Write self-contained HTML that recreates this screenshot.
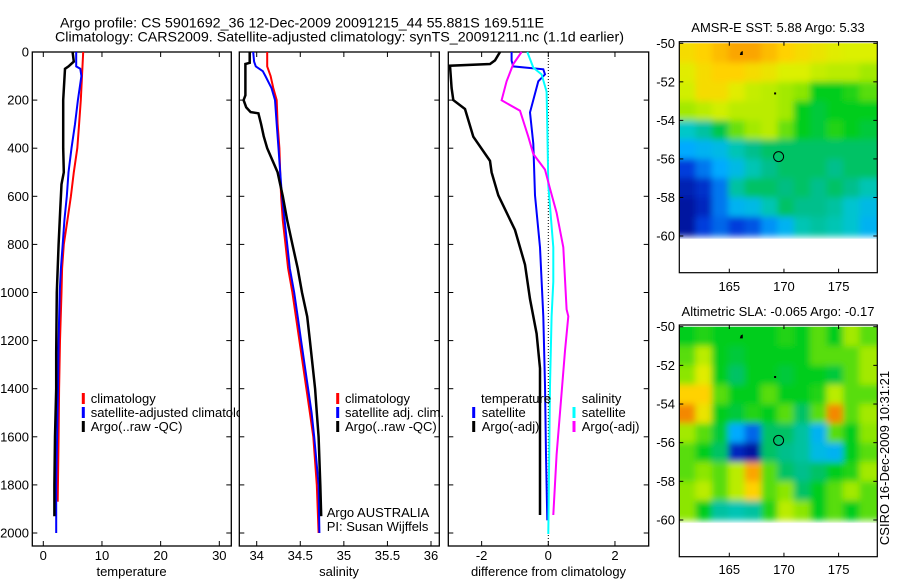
<!DOCTYPE html>
<html><head><meta charset="utf-8">
<style>
html,body{margin:0;padding:0;background:#fff;}
svg{display:block;font-family:"Liberation Sans",sans-serif;}
</style></head>
<body>
<svg id="chart" width="900" height="580" viewBox="0 0 900 580" xmlns="http://www.w3.org/2000/svg">
<defs>
<clipPath id="clipSst"><rect x="679.3" y="43.3" width="198" height="195.4"/></clipPath>
<clipPath id="clipSla"><rect x="679.3" y="326.7" width="198" height="196"/></clipPath>
<clipPath id="clipP1"><rect x="32" y="40" width="208" height="510"/></clipPath>
<filter id="blur" x="-5%" y="-5%" width="110%" height="110%"><feGaussianBlur stdDeviation="3.2"/></filter>
</defs>
<text x="60" y="27.5" font-size="14" textLength="484" lengthAdjust="spacingAndGlyphs">Argo profile: CS 5901692_36 12-Dec-2009 20091215_44 55.881S 169.511E</text>
<text x="55" y="41.5" font-size="14" textLength="569" lengthAdjust="spacingAndGlyphs">Climatology: CARS2009. Satellite-adjusted climatology: synTS_20091211.nc (1.1d earlier)</text>
<g id="g"></g>
</svg>
<script>
// ---------- data ----------
const depthTicks = [0,200,400,600,800,1000,1200,1400,1600,1800,2000];
const tempTicks = [0,10,20,30];
const salTicks = [34,34.5,35,35.5,36];
const diffTicks = [-2,0,2];
const lonTicks = [165,170,175];
const latTicks = [-50,-52,-54,-56,-58,-60];

const tempClimDepth = [0,100,200,300,400,500,600,700,800,900,1000,1200,1400,1600,1870];
const tempClimVal = [6.8,6.6,6.4,6.1,5.8,5.2,4.7,4.1,3.5,3.2,3.1,2.85,2.7,2.6,2.45];
const tempSatDepth = [0,60,70,100,200,300,400,500,600,700,800,900,1000,1200,1400,1600,1800,2000];
const tempSatVal = [5.6,5.6,6.3,6.5,5.9,5.4,4.8,4.3,4.0,3.6,3.3,3.0,2.8,2.6,2.5,2.35,2.2,2.2];
const tempArgoDepth = [0,40,60,70,200,300,400,500,550,650,800,1000,1250,1400,1600,1800,1930];
const tempArgoVal = [5.0,5.2,4.3,3.7,3.4,3.4,3.4,3.5,3.1,2.9,2.6,2.3,2.2,2.2,2.0,1.9,1.9];

const salClimDepth = [0,60,100,150,200,300,400,500,600,700,800,900,1000,1100,1200,1300,1400,1500,1600,1800,2000];
const salClimVal = [34.12,34.12,34.16,34.19,34.23,34.24,34.26,34.27,34.28,34.30,34.33,34.36,34.41,34.45,34.49,34.53,34.57,34.61,34.65,34.69,34.71];
const salSatDepth = [0,40,60,80,100,150,200,300,400,500,600,700,800,900,1000,1100,1200,1300,1400,1500,1600,1800,2000];
const salSatVal = [33.96,33.97,33.99,34.07,34.10,34.17,34.21,34.23,34.25,34.27,34.29,34.32,34.35,34.38,34.43,34.47,34.51,34.55,34.59,34.63,34.66,34.71,34.72];
const salArgoDepth = [0,45,50,180,200,230,250,255,300,350,400,450,500,550,600,700,800,900,1000,1100,1200,1300,1400,1500,1600,1800,1930];
const salArgoVal = [33.92,33.92,33.87,33.87,33.85,33.88,33.93,34.02,34.05,34.08,34.12,34.18,34.24,34.27,34.30,34.35,34.41,34.47,34.52,34.58,34.61,34.64,34.67,34.69,34.71,34.73,34.74];

const dTempArgoDepth = [0,35,50,57,150,200,237,352,453,500,596,740,884,1027,1171,1315,1530,1925];
const dTempArgoVal = [-1.45,-1.6,-1.75,-2.95,-2.9,-2.85,-2.5,-2.25,-1.75,-1.7,-1.5,-1.0,-0.7,-0.55,-0.35,-0.25,-0.25,-0.25];
const dTempSatDepth = [0,36,60,72,93,122,251,381,596,812,1099,1386,1674,1947];
const dTempSatVal = [-1.1,-1.1,-1.05,-0.15,-0.1,-0.3,-0.55,-0.45,-0.4,-0.25,-0.15,-0.1,-0.07,-0.03];
const dSalSatDepth = [0,65,93,165,309,553,812,955,1099,1386,2004];
const dSalSatVal = [-0.63,-0.45,-0.2,-0.05,-0.03,0,0.15,0.15,0.1,0.05,0];
const dSalArgoDepth = [0,50,122,201,244,352,424,489,568,668,812,1070,1099,1243,1674,1925];
const dSalArgoVal = [-0.8,-1.05,-1.25,-1.4,-0.85,-0.6,-0.45,-0.1,0.05,0.25,0.45,0.55,0.6,0.5,0.25,0.15];

const mapLonCenters = [161.15,162.65,164.15,165.65,167.15,168.65,170.15,171.65,173.15,174.65,176.15,177.65];
const mapLatCenters = [-50.5,-51.5,-52.5,-53.5,-54.5,-55.5,-56.5,-57.5,-58.5,-59.5];
const sstGrid = [
[0.70,0.72,0.75,0.78,0.78,0.75,0.72,0.70,0.68,0.66,0.65,0.65],
[0.66,0.70,0.72,0.72,0.70,0.68,0.65,0.65,0.63,0.62,0.62,0.60],
[0.64,0.70,0.70,0.66,0.63,0.62,0.60,0.58,0.50,0.50,0.52,0.55],
[0.60,0.62,0.64,0.62,0.62,0.62,0.60,0.50,0.48,0.50,0.50,0.50],
[0.36,0.40,0.47,0.56,0.60,0.62,0.56,0.50,0.48,0.52,0.50,0.48],
[0.28,0.30,0.32,0.38,0.42,0.45,0.45,0.45,0.45,0.45,0.45,0.45],
[0.15,0.22,0.28,0.32,0.38,0.42,0.45,0.45,0.45,0.42,0.45,0.45],
[0.08,0.12,0.22,0.40,0.45,0.45,0.43,0.45,0.42,0.45,0.42,0.38],
[0.05,0.10,0.22,0.30,0.32,0.38,0.45,0.42,0.42,0.40,0.35,0.32],
[0.05,0.15,0.20,0.15,0.18,0.25,0.30,0.38,0.40,0.38,0.35,0.30]];
const slaGrid = [
[0.50,0.52,0.50,0.50,0.50,0.50,0.52,0.50,0.55,0.50,0.60,0.55],
[0.55,0.62,0.50,0.48,0.50,0.50,0.50,0.50,0.55,0.55,0.55,0.60],
[0.58,0.66,0.50,0.45,0.50,0.50,0.48,0.50,0.50,0.48,0.55,0.60],
[0.72,0.72,0.55,0.50,0.50,0.55,0.50,0.50,0.52,0.62,0.55,0.55],
[0.82,0.68,0.50,0.48,0.52,0.50,0.55,0.45,0.55,0.82,0.55,0.60],
[0.60,0.55,0.48,0.28,0.20,0.45,0.45,0.40,0.30,0.55,0.50,0.58],
[0.55,0.50,0.45,0.10,0.05,0.45,0.42,0.40,0.32,0.30,0.50,0.55],
[0.55,0.58,0.55,0.62,0.78,0.55,0.45,0.42,0.45,0.50,0.52,0.60],
[0.58,0.62,0.55,0.62,0.72,0.55,0.58,0.45,0.50,0.55,0.60,0.55],
[0.58,0.50,0.40,0.38,0.40,0.52,0.62,0.58,0.50,0.55,0.50,0.55]];

// ---------- helpers ----------
const NS = "http://www.w3.org/2000/svg";
const root = document.getElementById('g');
function el(tag, attrs, parent){
  const e = document.createElementNS(NS, tag);
  for (const k in attrs) e.setAttribute(k, attrs[k]);
  (parent||root).appendChild(e);
  return e;
}
const yDepth = d => 52 + d*0.2405;
const xTemp = v => 43.3 + v*5.867;
const xSal = v => 256.7 + (v-34)*87.15;
const xDiff = v => 548.3 + v*33.33;
const xLon = v => 729.3 + (v-165)*10.93;
const ySst = v => 43.3 + (-50 - v)*19.27;
const ySla = v => 326.7 + (-50 - v)*19.33;

const cmapStops = [
 [0.00,[0,0,130]],[0.15,[0,60,220]],[0.28,[0,170,255]],[0.36,[0,200,200]],
 [0.43,[0,190,130]],[0.50,[0,205,30]],[0.58,[140,230,0]],[0.65,[220,240,0]],
 [0.72,[255,210,0]],[0.80,[250,150,0]],[0.90,[220,80,0]],[1.00,[180,0,0]]];
function cmap(v){
  v=Math.max(0,Math.min(1,v));
  for(let i=1;i<cmapStops.length;i++){
    const [a,ca]=cmapStops[i-1],[b,cb]=cmapStops[i];
    if(v<=b){const t=(v-a)/(b-a);
      return `rgb(${ca.map((c,k)=>Math.round(c+(cb[k]-c)*t)).join(',')})`;}
  }
  return 'rgb(180,0,0)';
}

function panel(name, x0, x1, y0, y1, xt, xf, yt, yf, labelY, showYLabels, yLabelX){
  const g = el('g',{});
  
  
  el('rect',{x:x0,y:y0,width:x1-x0,height:y1-y0,fill:'none',stroke:'#000','stroke-width':1.3},g);
  xt.forEach(t=>{
    const x=xf(t);
    el('line',{x1:x,x2:x,y1:y1,y2:y1-5,stroke:'#000'},g);
    el('line',{x1:x,x2:x,y1:y0,y2:y0+5,stroke:'#000'},g);
    const lb = el('text',{x:x,y:labelY,'font-size':13,'text-anchor':'middle'},g);
    
    
    lb.textContent = String(t);
  });
  yt.forEach(t=>{
    const y=yf(t);
    el('line',{x1:x0,x2:x0+5,y1:y,y2:y,stroke:'#000'},g);
    el('line',{x1:x1,x2:x1-5,y1:y,y2:y,stroke:'#000'},g);
    if(showYLabels){
      const lb = el('text',{x:yLabelX,y:y+4.5,'font-size':13,'text-anchor':'end'},g);
      
      
      lb.textContent = String(t);
    }
  });
  return g;
}
function line(name, depths, vals, xf, color, w){
  const pts = depths.map((d,i)=>xf(vals[i]).toFixed(1)+','+yDepth(d).toFixed(1)).join(' ');
  const p = el('polyline',{points:pts,fill:'none',stroke:color,'stroke-width':w,'stroke-linejoin':'miter'});
  
  
}
function txt(name, x, y, s, size, anchor, parent){
  const t = el('text',{x:x,y:y,'font-size':size||13,'text-anchor':anchor||'start'},parent);
  
  
  t.textContent = s;
  return t;
}
function legendMark(name, x, y, color){
  const r = el('rect',{x:x-1.5,y:y-10,width:3,height:11,fill:color});
  
  
}

// ---------- panel 1: temperature ----------
panel('temperature-panel',32.3,231.3,52,546,tempTicks,xTemp,depthTicks,yDepth,560,true,29);
txt('x-axis-title-temperature',131.5,576,'temperature',13,'middle');
line('temperature-climatology-line',tempClimDepth,tempClimVal,xTemp,'#ff0000',2);
line('temperature-satellite-line',tempSatDepth,tempSatVal,xTemp,'#0000ff',2);
line('temperature-argo-line',tempArgoDepth,tempArgoVal,xTemp,'#000000',2.5);
legendMark('legend-mark-climatology',83.3,403,'#ff0000');
legendMark('legend-mark-satellite',83.3,417,'#0000ff');
legendMark('legend-mark-argo',83.3,431,'#000000');
const lg1 = el('g',{'clip-path':'url(#clipP1)'});
txt('legend-climatology',90.7,403,'climatology',13,'start',lg1);
txt('legend-satellite',90.7,417,'satellite-adjusted climatology',13,'start',lg1);
txt('legend-argo',90.7,431,'Argo(..raw -QC)',13,'start',lg1);

// ---------- panel 2: salinity ----------
panel('salinity-panel',239.3,439.3,52,546,salTicks,xSal,depthTicks,yDepth,560,false,0);
txt('x-axis-title-salinity',339,576,'salinity',13,'middle');
line('salinity-climatology-line',salClimDepth,salClimVal,xSal,'#ff0000',2);
line('salinity-satellite-line',salSatDepth,salSatVal,xSal,'#0000ff',2);
line('salinity-argo-line',salArgoDepth,salArgoVal,xSal,'#000000',2.5);
legendMark('legend-mark-sal-climatology',337.7,403,'#ff0000');
legendMark('legend-mark-sal-satellite',337.7,417,'#0000ff');
legendMark('legend-mark-sal-argo',337.7,431,'#000000');
txt('legend-sal-climatology',345,403,'climatology');
txt('legend-sal-satellite',345,417,'satellite adj. clim.');
txt('legend-sal-argo',345,431,'Argo(..raw -QC)');
txt('argo-australia-label',326.7,517,'Argo AUSTRALIA');
txt('pi-label',326.7,531,'PI: Susan Wijffels');

// ---------- panel 3: difference ----------
panel('difference-panel',448.3,648.7,52,546,diffTicks,xDiff,depthTicks,yDepth,560,false,0);
el('line',{x1:xDiff(0),x2:xDiff(0),y1:52,y2:546,stroke:'#000','stroke-width':1,'stroke-dasharray':'1,2'});
txt('x-axis-title-difference',548.5,576,'difference from climatology',13,'middle');
line('diff-temp-argo-line',dTempArgoDepth,dTempArgoVal,xDiff,'#000000',2.5);
line('diff-temp-satellite-line',dTempSatDepth,dTempSatVal,xDiff,'#0000ff',2);
line('diff-sal-satellite-line',dSalSatDepth,dSalSatVal,xDiff,'#00ffff',2);
line('diff-sal-argo-line',dSalArgoDepth,dSalArgoVal,xDiff,'#ff00ff',2);
txt('legend-temperature-header',481,403,'temperature');
legendMark('legend-mark-diff-temp-sat',473.7,417,'#0000ff');
legendMark('legend-mark-diff-temp-argo',473.7,431,'#000000');
txt('legend-diff-temp-sat',481.7,417,'satellite');
txt('legend-diff-temp-argo',481.7,431,'Argo(-adj)');
txt('legend-salinity-header',581.7,403,'salinity');
legendMark('legend-mark-diff-sal-sat',574,417,'#00ffff');
legendMark('legend-mark-diff-sal-argo',574,431,'#ff00ff');
txt('legend-diff-sal-sat',581.7,417,'satellite');
txt('legend-diff-sal-argo',581.7,431,'Argo(-adj)');

// ---------- maps ----------
function map(name, grid, yf, clipId, boxTop, boxBot, labelY, title, titleY){
  const g = el('g',{'clip-path':'url(#'+clipId+')'});
  
  
  const inner = el('g',{filter:'url(#blur)'},g);
  const dLon = 1.5, dLat = 1;
  grid.forEach((row,i)=>{
    row.forEach((v,j)=>{
      let lo = mapLonCenters[j]-dLon/2, hi = mapLonCenters[j]+dLon/2;
      let la0 = mapLatCenters[i]+dLat/2, la1 = mapLatCenters[i]-dLat/2;
      if(j===0) lo -= 2; if(j===row.length-1) hi += 2;
      if(i===0) la0 += 2;
      const c = el('rect',{x:xLon(lo),y:yf(la0),width:xLon(hi)-xLon(lo)+0.5,height:yf(la1)-yf(la0)+0.5,fill:cmap(v)},inner);
      
      
    });
  });
  el('path',{d:`M${xLon(166.05)},${yf(-50.45)} l2,-1 l0,4 l-3,0 z`,fill:'#000'});
  el('rect',{x:xLon(169.1),y:yf(-52.55),width:2,height:2,fill:'#000'});
  const m = el('circle',{cx:xLon(169.511),cy:yf(-55.881),r:5,fill:'none',stroke:'#000','stroke-width':1});
  
  
  el('rect',{x:679.3,y:boxTop,width:198,height:boxBot-boxTop,fill:'none',stroke:'#000','stroke-width':1.2});
  lonTicks.forEach(t=>{
    const x=xLon(t);
    el('line',{x1:x,x2:x,y1:boxBot,y2:boxBot-4,stroke:'#000'});
    el('line',{x1:x,x2:x,y1:boxTop,y2:boxTop+4,stroke:'#000'});
    txt(name+'-lon-label',x,labelY,String(t),13,'middle');
  });
  latTicks.forEach(t=>{
    const y=yf(t);
    el('line',{x1:679.3,x2:683.3,y1:y,y2:y,stroke:'#000'});
    el('line',{x1:877.3,x2:873.3,y1:y,y2:y,stroke:'#000'});
    txt(name+'-lat-label',675,y+4.5,String(t),13,'end');
  });
  txt(name+'-title',778,titleY,title,13,'middle');
}
map('sst-map',sstGrid,ySst,'clipSst',41.7,272.7,291,'AMSR-E SST: 5.88 Argo: 5.33',32);
map('sla-map',slaGrid,ySla,'clipSla',325,556.7,574,'Altimetric SLA: -0.065 Argo: -0.17',316);
const stamp = txt('csiro-timestamp',0,0,'CSIRO 16-Dec-2009 10:31:21',13,'middle');
stamp.setAttribute('transform','translate(889,458) rotate(-90)');
</script>
</body></html>
